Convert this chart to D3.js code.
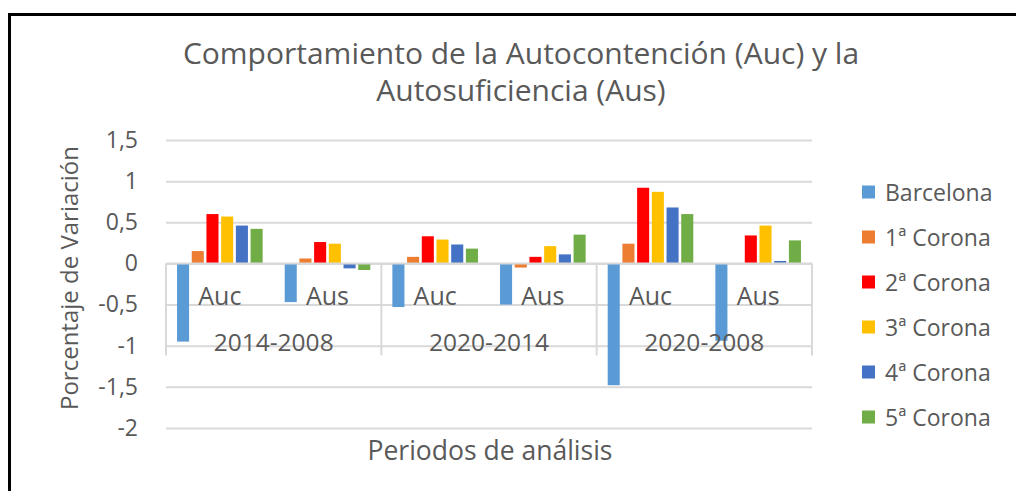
<!DOCTYPE html>
<html>
<head>
<meta charset="utf-8">
<script src="https://cdn.jsdelivr.net/npm/d3@7"></script>
<style>
  body { margin: 0; background: #fff; }
  text { font-family: "Open Sans", sans-serif; fill: #595959; }
</style>
</head>
<body>
<svg id="chart" width="1016" height="491"></svg>
<script>
const periods = ["2014-2008", "2020-2014", "2020-2008"];
const subCats = ["Auc", "Aus"];
const seriesNames = ["Barcelona", "1ª Corona", "2ª Corona", "3ª Corona", "4ª Corona", "5ª Corona"];
const seriesColors = ["#5b9bd5", "#ed7d31", "#ff0000", "#ffc000", "#4472c4", "#70ad47"];

// valores: Auc, Aus por cada periodo
const barcelona = [-0.95, -0.47, -0.53, -0.50, -1.48, -0.94];
const corona1   = [0.15, 0.06, 0.08, -0.05, 0.24, 0.00];
const corona2   = [0.60, 0.26, 0.33, 0.08, 0.92, 0.34];
const corona3   = [0.57, 0.24, 0.29, 0.21, 0.87, 0.46];
const corona4   = [0.46, -0.06, 0.23, 0.11, 0.68, 0.03];
const corona5   = [0.42, -0.08, 0.18, 0.35, 0.60, 0.28];
const yTicks = [-2, -1.5, -1, -0.5, 0, 0.5, 1, 1.5];

const seriesValues = [barcelona, corona1, corona2, corona3, corona4, corona5];

// categorias combinadas periodo|sub
const keys = [];
periods.forEach(p => subCats.forEach(s => keys.push(p + "|" + s)));

const rows = [];
seriesNames.forEach((name, si) => {
  keys.forEach((k, ki) => rows.push({ key: k, series: name, value: seriesValues[si][ki] }));
});

const svg = d3.select("#chart");
const plot = { left: 166, right: 812, top: 140, bottom: 428 };

// marco negro
svg.append("rect")
  .attr("x", 9.5).attr("y", 14.5)
  .attr("width", 1100).attr("height", 600)
  .attr("fill", "none").attr("stroke", "#000").attr("stroke-width", 3);

const locale = d3.formatLocale({ decimal: ",", thousands: ".", grouping: [3], currency: ["", "€"], minus: "-" });
const fmt = locale.format(".1~f");

const y = d3.scaleLinear().domain([-2, 1.5]).range([plot.bottom, plot.top]);
const x0 = d3.scaleBand().domain(keys).range([plot.left, plot.right]).padding(0);
const x1 = d3.scaleBand().domain(seriesNames).range([0, x0.bandwidth()])
  .paddingInner(0.18).paddingOuter(0.75);
const color = d3.scaleOrdinal().domain(seriesNames).range(seriesColors);

// eje Y con lineas de cuadricula
const yAxis = svg.append("g")
  .attr("transform", `translate(${plot.left},0)`)
  .call(d3.axisLeft(y).tickValues(yTicks).tickFormat(fmt)
    .tickSize(-(plot.right - plot.left)).tickPadding(28));
yAxis.select(".domain").remove();
yAxis.selectAll(".tick line").attr("stroke", "#d9d9d9").attr("stroke-width", 2);
yAxis.selectAll(".tick text")
  .style("font-family", "Open Sans, sans-serif")
  .style("font-size", "23px").attr("fill", "#595959");

// barras
svg.append("g")
  .selectAll("rect")
  .data(rows)
  .join("rect")
  .attr("x", d => x0(d.key) + x1(d.series))
  .attr("width", x1.bandwidth())
  .attr("y", d => y(Math.max(0, d.value)))
  .attr("height", d => Math.abs(y(d.value) - y(0)))
  .attr("fill", d => color(d.series));

// eje de categorias en 0
const y0 = y(0);
svg.append("line")
  .attr("x1", plot.left).attr("x2", plot.right)
  .attr("y1", y0).attr("y2", y0)
  .attr("stroke", "#d9d9d9").attr("stroke-width", 2);

const sepX = periods.map(p => x0(p + "|" + subCats[0])).concat([plot.right]);
svg.append("g")
  .selectAll("line")
  .data(sepX)
  .join("line")
  .attr("x1", d => d).attr("x2", d => d)
  .attr("y1", y0).attr("y2", y0 + 92)
  .attr("stroke", "#d9d9d9").attr("stroke-width", 2);

svg.append("g")
  .selectAll("text")
  .data(keys)
  .join("text")
  .attr("x", d => x0(d) + x0.bandwidth() / 2)
  .attr("y", y0 + 32)
  .attr("text-anchor", "middle")
  .attr("dominant-baseline", "central")
  .style("font-size", "25px")
  .text(d => d.split("|")[1]);

svg.append("g")
  .selectAll("text")
  .data(periods)
  .join("text")
  .attr("x", p => (x0(p + "|Auc") + x0(p + "|Aus") + x0.bandwidth()) / 2)
  .attr("y", y0 + 78)
  .attr("text-anchor", "middle")
  .attr("dominant-baseline", "central")
  .style("font-size", "24.5px")
  .text(p => p);

// titulo
const title = svg.append("text")
  .attr("text-anchor", "middle")
  .style("font-size", "30px");
title.append("tspan").attr("x", 521).attr("y", 64).text("Comportamiento de la Autocontención (Auc) y la");
title.append("tspan").attr("x", 521).attr("y", 101).text("Autosuficiencia (Aus)");

// titulos de ejes
svg.append("text")
  .attr("transform", "translate(68,278) rotate(-90)")
  .attr("text-anchor", "middle")
  .attr("dominant-baseline", "central")
  .style("font-size", "24px")
  .text("Porcentaje de Variación");

svg.append("text")
  .attr("x", 490)
  .attr("y", 450)
  .attr("text-anchor", "middle")
  .attr("dominant-baseline", "central")
  .style("font-size", "26.5px")
  .text("Periodos de análisis");

// leyenda
const legend = svg.append("g")
  .selectAll("g")
  .data(seriesNames)
  .join("g")
  .attr("transform", (d, i) => `translate(862,${192 + i * 45})`);
legend.append("rect")
  .attr("x", 0).attr("y", -6.5)
  .attr("width", 13).attr("height", 13)
  .attr("fill", d => color(d));
legend.append("text")
  .attr("x", 23).attr("y", 0)
  .attr("dominant-baseline", "central")
  .style("font-size", "23px")
  .text(d => d);
</script>
</body>
</html>
